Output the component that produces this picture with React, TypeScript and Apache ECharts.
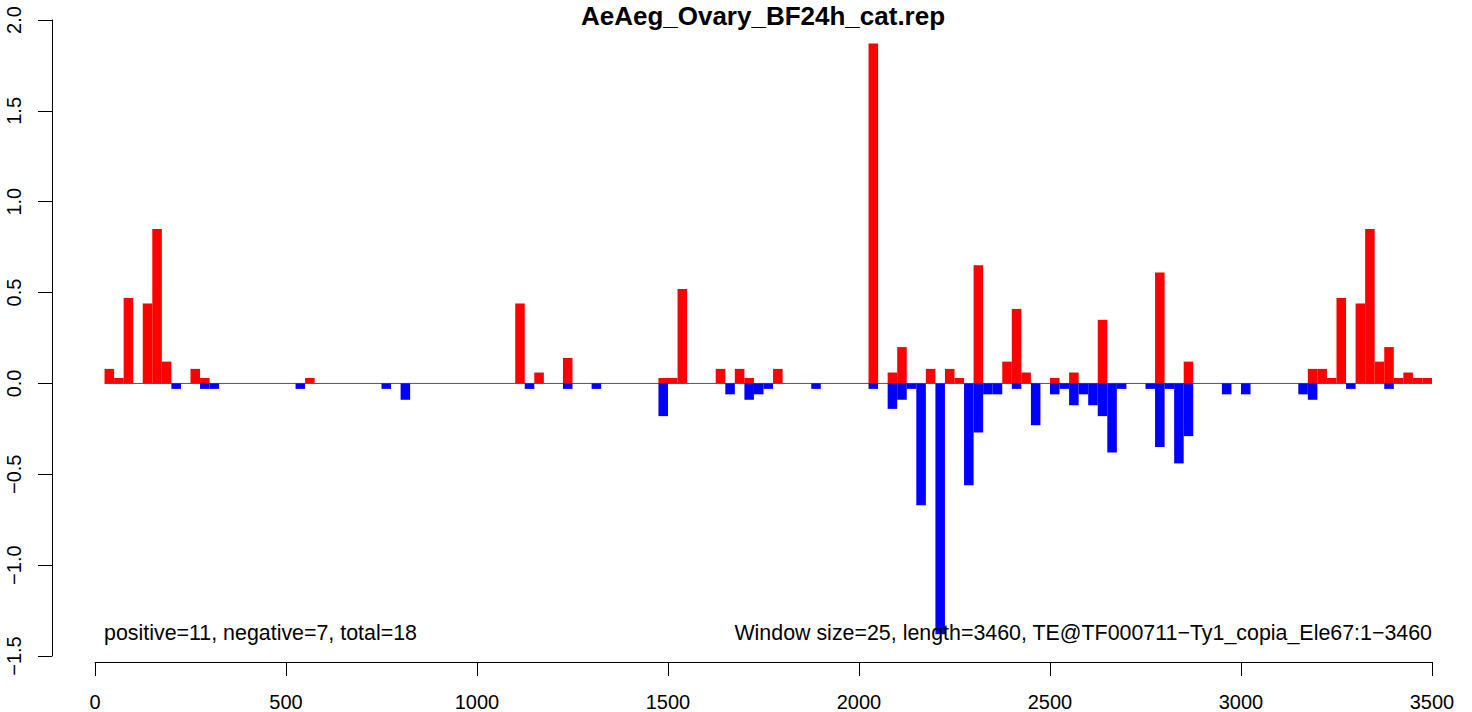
import React, { useEffect, useRef } from "react";
import * as echarts from "echarts";

const TITLE = "AeAeg_Ovary_BF24h_cat.rep";
const LEFT_NOTE = "positive=11, negative=7, total=18";
const RIGHT_NOTE = "Window size=25, length=3460, TE@TF000711\u2212Ty1_copia_Ele67:1\u22123460";
const WINDOW = 25;

const X_MIN = 0;
const X_MAX = 3500;
const X_STEP = 500;
const Y_MIN = -1.5;
const Y_MAX = 2.0;
const Y_STEP = 0.5;

// window start positions and scores (positive strand)
const posStarts = [
  25, 50, 75, 125, 150, 175, 250, 275, 550, 1100, 1150, 1225, 1475, 1500, 1525,
  1625, 1675, 1700, 1775, 2025, 2075, 2100, 2175, 2225, 2250, 2300, 2375, 2400,
  2425, 2500, 2550, 2625, 2775, 2850, 3175, 3200, 3225, 3250, 3300, 3325, 3350,
  3375, 3400, 3425, 3450, 3475,
];
const posValues = [
  0.08, 0.03, 0.47, 0.44, 0.85, 0.12, 0.08, 0.03, 0.03, 0.44, 0.06, 0.14, 0.03,
  0.03, 0.52, 0.08, 0.08, 0.03, 0.08, 1.87, 0.06, 0.2, 0.08, 0.08, 0.03, 0.65,
  0.12, 0.41, 0.06, 0.03, 0.06, 0.35, 0.61, 0.12, 0.08, 0.08, 0.03, 0.47, 0.44,
  0.85, 0.12, 0.2, 0.03, 0.06, 0.03, 0.03,
];

// window start positions and scores (negative strand)
const negStarts = [
  200, 275, 300, 525, 750, 800, 1125, 1225, 1300, 1475, 1650, 1700, 1725, 1750,
  1875, 2025, 2075, 2100, 2125, 2150, 2200, 2275, 2300, 2325, 2350, 2400, 2450,
  2500, 2525, 2550, 2575, 2600, 2625, 2650, 2675, 2750, 2775, 2800, 2825, 2850,
  2950, 3000, 3150, 3175, 3275, 3375,
];
const negValues = [
  -0.03, -0.03, -0.03, -0.03, -0.03, -0.09, -0.03, -0.03, -0.03, -0.18, -0.06,
  -0.09, -0.06, -0.03, -0.03, -0.03, -0.14, -0.09, -0.03, -0.67, -1.38, -0.56,
  -0.27, -0.06, -0.06, -0.03, -0.23, -0.06, -0.03, -0.12, -0.06, -0.12, -0.18,
  -0.38, -0.03, -0.03, -0.35, -0.03, -0.44, -0.29, -0.06, -0.06, -0.06, -0.09,
  -0.03, -0.03,
];

const baseline = [
  [25, 0],
  [3500, 0],
];

const FONT = '"Liberation Sans", Arial, Helvetica, sans-serif';

function makeRender(color: string) {
  return (params: any, api: any) => {
    const x0 = api.value(0);
    const v = api.value(1);
    const p0 = api.coord([x0, 0]);
    const p1 = api.coord([x0 + WINDOW, v]);
    return {
      type: "rect",
      shape: {
        x: p0[0],
        y: Math.min(p0[1], p1[1]),
        width: p1[0] - p0[0],
        height: Math.abs(p1[1] - p0[1]),
      },
      style: { fill: color },
    };
  };
}

export default function App() {
  const ref = useRef<HTMLDivElement>(null);

  useEffect(() => {
    if (!ref.current) return;
    const chart = echarts.init(ref.current, null, { renderer: "svg" });
    const minus = (s: string) => s.replace("-", "\u2212");
    chart.setOption({
      animation: false,
      backgroundColor: "#ffffff",
      grid: { left: 95, right: 40, top: 20, bottom: 55 },
      xAxis: {
        type: "value",
        min: X_MIN,
        max: X_MAX,
        interval: X_STEP,
        offset: 6,
        axisLine: { show: true, onZero: false, lineStyle: { color: "#000", width: 1 } },
        axisTick: { show: true, length: 14, lineStyle: { color: "#000", width: 1 } },
        axisLabel: {
          color: "#000",
          fontSize: 20,
          fontFamily: FONT,
          margin: 30,
          showMinLabel: true,
          showMaxLabel: true,
          formatter: (v: number) => String(v),
        },
        splitLine: { show: false },
      },
      yAxis: {
        type: "value",
        min: Y_MIN,
        max: Y_MAX,
        interval: Y_STEP,
        offset: 43,
        axisLine: { show: true, onZero: false, lineStyle: { color: "#000", width: 1 } },
        axisTick: { show: true, length: 14, lineStyle: { color: "#000", width: 1 } },
        axisLabel: {
          color: "#000",
          fontSize: 20,
          fontFamily: FONT,
          rotate: 90,
          margin: 28,
          showMinLabel: true,
          showMaxLabel: true,
          formatter: (v: number) => minus(v.toFixed(1)),
        },
        splitLine: { show: false },
      },
      series: [
        {
          type: "line",
          data: baseline,
          symbol: "none",
          lineStyle: { color: "#555555", width: 1 },
          z: 1,
          silent: true,
        },
        {
          type: "custom",
          name: "positive",
          data: posStarts.map((s, i) => [s, posValues[i]]),
          renderItem: makeRender("#ff0000"),
          encode: { x: 0, y: 1 },
          z: 2,
        },
        {
          type: "custom",
          name: "negative",
          data: negStarts.map((s, i) => [s, negValues[i]]),
          renderItem: makeRender("#0000ff"),
          encode: { x: 0, y: 1 },
          z: 2,
        },
      ],
      graphic: [
        {
          type: "text",
          x: 763,
          y: 16,
          z: 10,
          style: {
            text: TITLE,
            font: `bold 26px ${FONT}`,
            fill: "#000",
            textAlign: "center",
            align: "center",
            textVerticalAlign: "middle",
            verticalAlign: "middle",
          },
        },
        {
          type: "text",
          x: 104,
          y: 633,
          z: 10,
          style: {
            text: LEFT_NOTE,
            font: `21.4px ${FONT}`,
            fill: "#000",
            textAlign: "left",
            align: "left",
            textVerticalAlign: "middle",
            verticalAlign: "middle",
          },
        },
        {
          type: "text",
          x: 1432,
          y: 633,
          z: 10,
          style: {
            text: RIGHT_NOTE,
            font: `21.4px ${FONT}`,
            fill: "#000",
            textAlign: "right",
            align: "right",
            textVerticalAlign: "middle",
            verticalAlign: "middle",
          },
        },
      ],
    });
    return () => chart.dispose();
  }, []);

  return (
    <div
      ref={ref}
      style={{ position: "fixed", left: 0, top: 0, width: 1472, height: 712, background: "#fff" }}
    />
  );
}
